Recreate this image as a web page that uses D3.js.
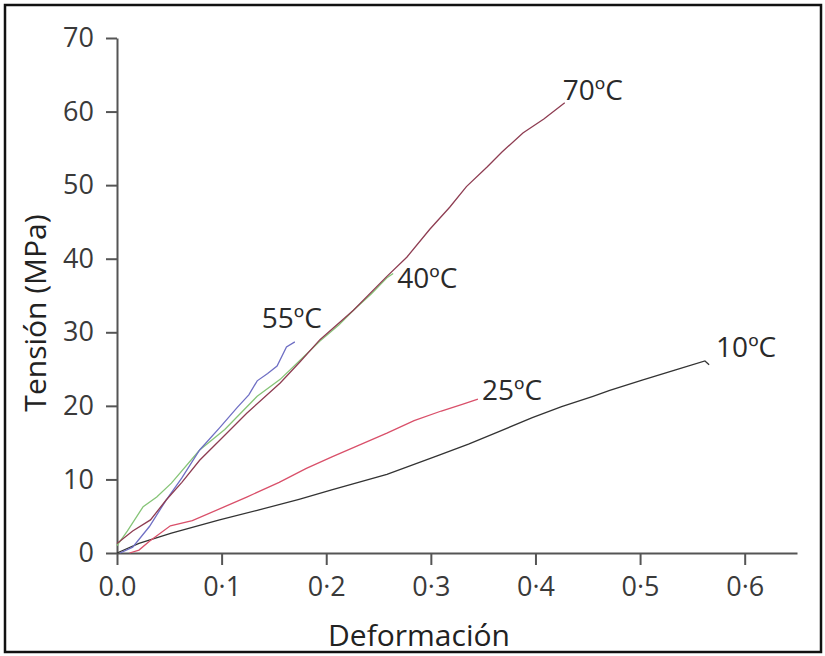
<!DOCTYPE html>
<html>
<head>
<meta charset="utf-8">
<script src="https://cdn.jsdelivr.net/npm/d3@7"></script>
<style>
  body { margin: 0; background: #fff; }
  text { font-family: "Open Sans", "Noto Sans", sans-serif; }
</style>
</head>
<body>
<div id="chart-area"></div>
<script>
// tick labels as printed in the figure
var xTicks = [0, 0.1, 0.2, 0.3, 0.4, 0.5, 0.6];
var xTickLabels = ["0.0", "0·1", "0·2", "0·3", "0·4", "0·5", "0·6"];
var yTicks = [0, 10, 20, 30, 40, 50, 60, 70];

var seriesNames = ["10ºC", "25ºC", "40ºC", "55ºC", "70ºC"];

// deformation / stress readings for each curve
var strain10 = [0, 0.021, 0.052, 0.098, 0.134, 0.174, 0.206, 0.258, 0.306, 0.336, 0.365, 0.397, 0.425, 0.455, 0.471, 0.502, 0.534, 0.562, 0.566];
var stress10 = [0, 1.3, 2.7, 4.5, 5.8, 7.3, 8.6, 10.7, 13.2, 14.8, 16.5, 18.4, 19.9, 21.3, 22.1, 23.5, 24.9, 26.1, 25.6];

var strain25 = [0.012, 0.021, 0.031, 0.051, 0.072, 0.103, 0.124, 0.155, 0.181, 0.206, 0.232, 0.258, 0.284, 0.31, 0.33, 0.345];
var stress25 = [0, 0.4, 1.6, 3.7, 4.4, 6.3, 7.6, 9.6, 11.5, 13.1, 14.7, 16.3, 18.0, 19.3, 20.2, 20.9];

var strain40 = [0, 0.01, 0.025, 0.038, 0.052, 0.079, 0.103, 0.134, 0.156, 0.175, 0.194, 0.212, 0.226, 0.243, 0.258, 0.264];
var stress40 = [1.0, 3.0, 6.3, 7.6, 9.5, 14.0, 16.8, 21.3, 23.6, 26.2, 28.8, 31.0, 33.0, 35.2, 37.4, 38.0];

var strain55 = [0.003, 0.015, 0.031, 0.047, 0.062, 0.079, 0.098, 0.115, 0.126, 0.134, 0.144, 0.153, 0.162, 0.170];
var stress55 = [0, 0.8, 3.6, 7.2, 10.2, 14.0, 17.0, 19.8, 21.5, 23.4, 24.4, 25.4, 28.0, 28.7];

var strain70 = [0, 0.015, 0.032, 0.047, 0.062, 0.079, 0.103, 0.124, 0.156, 0.175, 0.194, 0.226, 0.258, 0.277, 0.299, 0.318, 0.334, 0.354, 0.368, 0.388, 0.408, 0.428];
var stress70 = [1.3, 3.0, 4.5, 7.2, 9.6, 12.6, 16.0, 19.0, 23.1, 26.0, 29.0, 33.0, 37.6, 40.2, 44.0, 47.0, 49.8, 52.5, 54.5, 57.1, 59.0, 61.2];

var width = 825, height = 656;
var svg = d3.select("#chart-area").append("svg")
    .attr("width", width)
    .attr("height", height);

// outer frame
svg.append("rect")
    .attr("x", 5).attr("y", 5)
    .attr("width", width - 9).attr("height", height - 9)
    .attr("fill", "none")
    .attr("stroke", "#111")
    .attr("stroke-width", 2.5);

// Scales
var x = d3.scaleLinear().domain([0, 0.65]).range([117, 797]);
var y = d3.scaleLinear().domain([0, 70]).range([553, 38]);

// Axes
var xAxis = svg.append("g")
    .attr("transform", "translate(0,553)")
    .call(d3.axisBottom(x).tickValues(xTicks).tickSize(12).tickSizeOuter(0)
        .tickFormat(function(d, i) { return xTickLabels[i]; }));
var yAxis = svg.append("g")
    .attr("transform", "translate(117,0)")
    .call(d3.axisLeft(y).tickValues(yTicks).tickSize(11).tickSizeOuter(0));

[xAxis, yAxis].forEach(function(a) {
    a.select(".domain").attr("stroke", "#555").attr("stroke-width", 2);
    a.selectAll(".tick line").attr("stroke", "#555").attr("stroke-width", 2);
    a.selectAll(".tick text")
        .attr("fill", "#3a3a3a")
        .style("font-size", "27px")
        .style("font-family", "'Open Sans', sans-serif");
});
xAxis.selectAll(".tick text").attr("y", 24);
yAxis.selectAll(".tick text").attr("x", -23);

// Axis labels
svg.append("text")
    .attr("x", 419)
    .attr("y", 646)
    .attr("text-anchor", "middle")
    .attr("fill", "#222")
    .style("font-size", "30px")
    .text("Deformación");
svg.append("text")
    .attr("transform", "rotate(-90)")
    .attr("x", -313)
    .attr("y", 46)
    .attr("text-anchor", "middle")
    .attr("fill", "#222")
    .style("font-size", "30px")
    .text("Tensión (MPa)");

// Curves
var series = [
    { name: seriesNames[0], xs: strain10, ys: stress10, color: "#333333", dx: 7, dy: -8 },
    { name: seriesNames[1], xs: strain25, ys: stress25, color: "#d9506a", dx: 4, dy: 1 },
    { name: seriesNames[2], xs: strain40, ys: stress40, color: "#86c477", dx: 4, dy: 15 },
    { name: seriesNames[3], xs: strain55, ys: stress55, color: "#6f6fc4", dx: -33, dy: -14 },
    { name: seriesNames[4], xs: strain70, ys: stress70, color: "#8e3d52", dx: -2, dy: -3 }
];

var line = d3.line()
    .x(function(d) { return x(d[0]); })
    .y(function(d) { return y(d[1]); });

series.forEach(function(s) {
    var pts = s.xs.map(function(v, i) { return [v, s.ys[i]]; });
    svg.append("path")
        .attr("fill", "none")
        .attr("stroke", s.color)
        .attr("stroke-width", 1.3)
        .attr("d", line(pts));
    var last = pts[pts.length - 1];
    svg.append("text")
        .attr("x", x(last[0]) + s.dx)
        .attr("y", y(last[1]) + s.dy)
        .attr("fill", "#2a2a2a")
        .style("font-size", "28px")
        .text(s.name);
});
</script>
</body>
</html>
